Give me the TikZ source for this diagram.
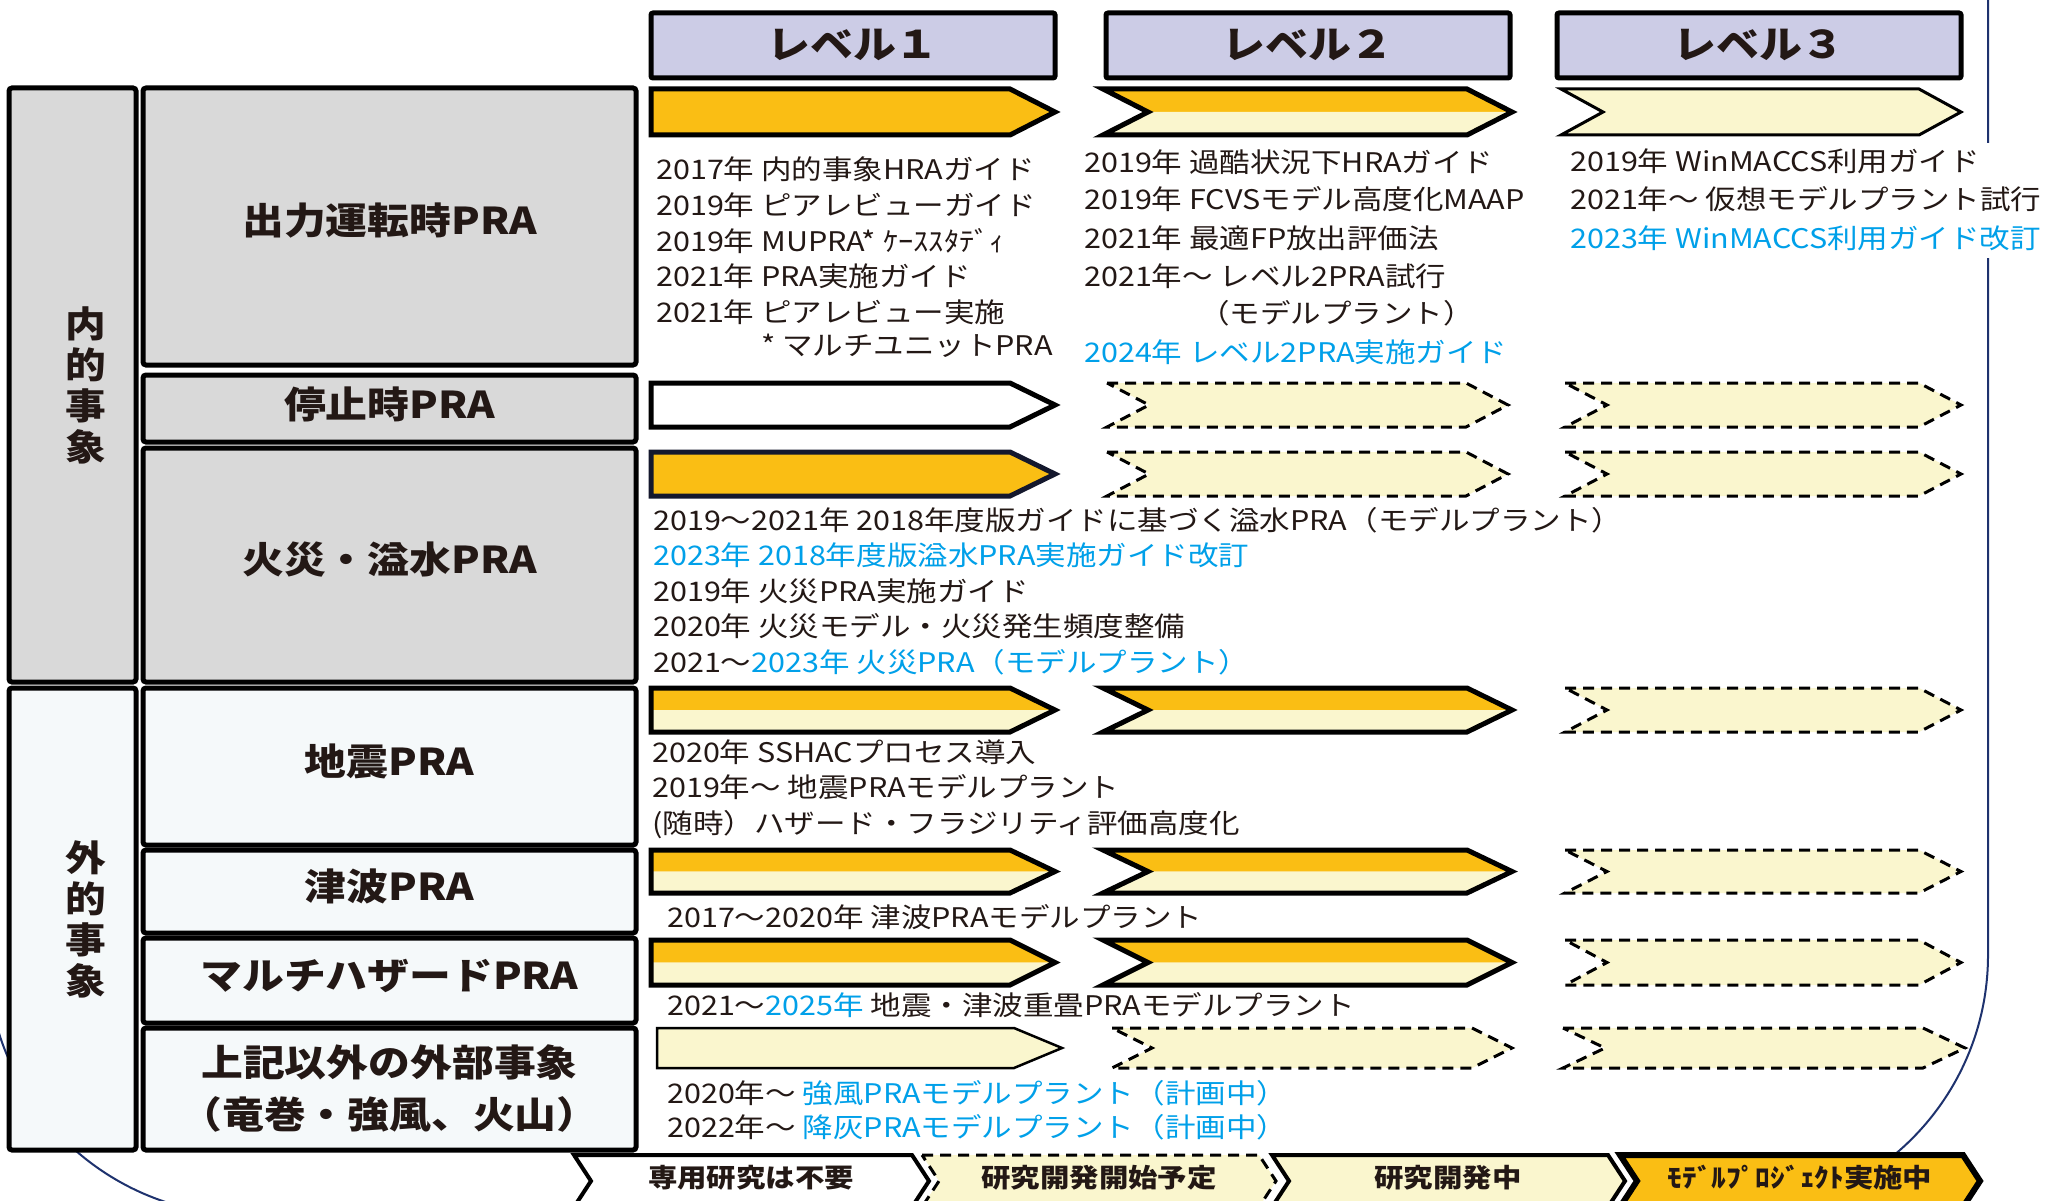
\documentclass[tikz,border=0pt]{standalone}
\usepackage{fontspec}
\newfontfamily\jp[FakeStretch=1.13]{Noto Sans CJK JP}
\definecolor{ink}{RGB}{35,24,21}
\definecolor{cy}{RGB}{0,160,233}
\definecolor{orng}{RGB}{250,190,20}
\definecolor{cream}{RGB}{250,246,206}
\definecolor{lav}{RGB}{204,204,230}
\definecolor{grayfill}{RGB}{217,217,217}
\definecolor{lightfill}{RGB}{245,249,250}
\definecolor{navyl}{RGB}{30,50,110}
\definecolor{darkrim}{RGB}{20,24,45}
% pentagon: x1 x2 ytop ybot depth style
\newcommand{\Pent}[6]{\path[#6] (#1,#3) -- ({#2-#5},#3) -- (#2,{(#3+#4)/2}) -- ({#2-#5},#4) -- (#1,#4) -- cycle;}
% chevron with notch
\newcommand{\Chev}[6]{\path[#6] (#1,#3) -- ({#2-#5},#3) -- (#2,{(#3+#4)/2}) -- ({#2-#5},#4) -- (#1,#4) -- ({#1+#5},{(#3+#4)/2}) -- cycle;}
% half orange / half cream pentagon
\newcommand{\PentHalf}[4]{%
  \fill[orng] (#1,#3) -- ({#2-45},#3) -- (#2,{(#3+#4)/2}) -- (#1,{(#3+#4)/2}) -- cycle;
  \fill[cream] (#1,{(#3+#4)/2}) -- (#2,{(#3+#4)/2}) -- ({#2-45},#4) -- (#1,#4) -- cycle;
  \Pent{#1}{#2}{#3}{#4}{45}{solidarrow}}
\newcommand{\ChevHalf}[4]{%
  \fill[orng] (#1,#3) -- ({#2-45},#3) -- (#2,{(#3+#4)/2}) -- ({#1+45},{(#3+#4)/2}) -- cycle;
  \fill[cream] ({#1+45},{(#3+#4)/2}) -- (#2,{(#3+#4)/2}) -- ({#2-45},#4) -- (#1,#4) -- cycle;
  \Chev{#1}{#2}{#3}{#4}{45}{solidarrow}}
\tikzset{
  solidarrow/.style={draw=black, line width=5pt, line join=miter},
  thinarrow/.style={draw=black, line width=3pt, line join=miter},
  dasharrow/.style={fill=cream, draw=black, line width=3pt, dash pattern=on 11pt off 7pt},
  catbox/.style={draw=black, line width=5pt, rounded corners=3pt},
  hdrbox/.style={draw=black, line width=5pt, fill=lav, rounded corners=2pt},
  bodytxt/.style={anchor=base west, inner sep=0pt, text=ink, font=\jp\fontsize{27}{30}\selectfont},
  rowlbl/.style={inner sep=0pt, text=ink, align=center, font=\jp\bfseries\fontsize{37}{52}\selectfont},
  hdrtxt/.style={inner sep=0pt, text=ink, font=\jp\bfseries\fontsize{38}{40}\selectfont},
  verttxt/.style={inner sep=0pt, text=ink, align=center, font=\jp\bfseries\fontsize{36}{41}\selectfont},
  legtxt/.style={inner sep=0pt, text=ink, font=\jp\bfseries\fontsize{26}{30}\selectfont},
}
\begin{document}
\begin{tikzpicture}[x=1pt,y=-1pt]
\useasboundingbox (0,0) rectangle (2047,1201);
\fill[white] (0,0) rectangle (2047,1201);
% background frame
\draw[navyl, line width=2pt, rounded corners=260pt] (-13,-300) rectangle (1988,1215);
\fill[white] (1565,143) rectangle (2047,258);

% category columns
\draw[catbox, fill=grayfill] (9,88) rectangle (136,682);
\draw[catbox, fill=lightfill] (9,688) rectangle (136,1150);
\draw[catbox, fill=grayfill] (143,88) rectangle (636,365);
\draw[catbox, fill=grayfill] (143,375) rectangle (636,442);
\draw[catbox, fill=grayfill] (143,448) rectangle (636,682);
\draw[catbox, fill=lightfill] (143,688) rectangle (636,845);
\draw[catbox, fill=lightfill] (143,850) rectangle (636,933);
\draw[catbox, fill=lightfill] (143,938) rectangle (636,1023);
\draw[catbox, fill=lightfill] (143,1028) rectangle (636,1150);

\node[verttxt] (naibu) at (86,385) {内\\的\\事\\象};
\node[verttxt] (gaibu) at (86,919) {外\\的\\事\\象};
\node[rowlbl] (r1) at (389.5,221) {出力運転時PRA};
\node[rowlbl] (r2) at (389.5,404) {停止時PRA};
\node[rowlbl] (r3) at (389.5,560) {火災・溢水PRA};
\node[rowlbl] (r4) at (389.5,761) {地震PRA};
\node[rowlbl] (r5) at (389.5,886) {津波PRA};
\node[rowlbl] (r6) at (389.5,976) {マルチハザードPRA};
\node[rowlbl] (r7) at (389.5,1088) {上記以外の外部事象\\（竜巻・強風、火山）};

% level headers
\draw[hdrbox] (651,13) rectangle (1055,78);
\draw[hdrbox] (1106,13) rectangle (1510,78);
\draw[hdrbox] (1557,13) rectangle (1961,78);
\node[hdrtxt] (lv1) at (853,45) {レベル１};
\node[hdrtxt] (lv2) at (1308,45) {レベル２};
\node[hdrtxt] (lv3) at (1759,45) {レベル３};

% row 1
\Pent{651}{1055}{89}{135}{45}{solidarrow, fill=orng}
\ChevHalf{1103}{1512}{89}{135}
\Chev{1561}{1961}{89}{135}{42}{thinarrow, fill=cream}
% row 2
\Pent{651}{1055}{383}{427}{45}{solidarrow, fill=white}
\Chev{1107}{1508}{383}{427}{42}{dasharrow}
\Chev{1565}{1961}{383}{427}{42}{dasharrow}
% row 3
\Pent{651}{1055}{452}{496}{45}{solidarrow, draw=darkrim, fill=orng}
\Chev{1107}{1508}{452}{496}{42}{dasharrow}
\Chev{1565}{1961}{452}{496}{42}{dasharrow}
% row 4
\PentHalf{651}{1055}{688}{732}
\ChevHalf{1103}{1512}{688}{732}
\Chev{1565}{1961}{688}{732}{42}{dasharrow}
% row 5
\PentHalf{651}{1055}{850}{893}
\ChevHalf{1103}{1512}{850}{893}
\Chev{1565}{1961}{850}{893}{42}{dasharrow}
% row 6
\PentHalf{651}{1055}{940}{985}
\ChevHalf{1103}{1512}{940}{985}
\Chev{1565}{1961}{940}{985}{42}{dasharrow}
% row 7
\Pent{657}{1062}{1028}{1068}{48}{draw=black, line width=2.5pt, fill=cream}
\Chev{1112}{1512}{1028}{1068}{40}{dasharrow}
\Chev{1563}{1965}{1028}{1068}{42}{dasharrow}

% level 1 text
\node[bodytxt] (a1) at (656,180) {2017年 内的事象HRAガイド};
\node[bodytxt] (a2) at (656,215.5) {2019年 ピアレビューガイド};
\node[bodytxt] (a3) at (656,251) {2019年 MUPRA* ｹｰｽｽﾀﾃﾞｨ};
\node[bodytxt] (a4) at (656,286.5) {2021年 PRA実施ガイド};
\node[bodytxt] (a5) at (656,322) {2021年 ピアレビュー実施};
\node[bodytxt, anchor=base east] (a6) at (1053,355) {* マルチユニットPRA};
% level 2 text
\node[bodytxt] (b1) at (1084,173) {2019年 過酷状況下HRAガイド};
\node[bodytxt] (b2) at (1084,210) {2019年 FCVSモデル高度化MAAP};
\node[bodytxt] (b3) at (1084,248) {2021年 最適FP放出評価法};
\node[bodytxt] (b4) at (1084,286) {2021年～ レベル2PRA試行};
\node[bodytxt] (b5) at (1199,323) {（モデルプラント）};
\node[bodytxt, text=cy] (b6) at (1084,362) {2024年 レベル2PRA実施ガイド};
% level 3 text
\node[bodytxt] (c1) at (1570,172) {2019年 WinMACCS利用ガイド};
\node[bodytxt] (c2) at (1570,210) {2021年～ 仮想モデルプラント試行};
\node[bodytxt, text=cy] (c3) at (1570,248) {2023年 WinMACCS利用ガイド改訂};
% fire / flooding
\node[bodytxt] (f1) at (653,530) {2019～2021年 2018年度版ガイドに基づく溢水PRA（モデルプラント）};
\node[bodytxt, text=cy] (f2) at (653,565.5) {2023年 2018年度版溢水PRA実施ガイド改訂};
\node[bodytxt] (f3) at (653,601) {2019年 火災PRA実施ガイド};
\node[bodytxt] (f4) at (653,636.5) {2020年 火災モデル・火災発生頻度整備};
\node[bodytxt] (f5) at (653,672) {2021～\textcolor{cy}{2023年 火災PRA（モデルプラント）}};
% seismic
\node[bodytxt] (s1) at (652,762) {2020年 SSHACプロセス導入};
\node[bodytxt] (s2) at (652,797) {2019年～ 地震PRAモデルプラント};
\node[bodytxt] (s3) at (652,833) {(随時）ハザード・フラジリティ評価高度化};
% tsunami
\node[bodytxt] (t1) at (667,927) {2017～2020年 津波PRAモデルプラント};
% multi hazard
\node[bodytxt] (m1) at (667,1015) {2021～\textcolor{cy}{2025年} 地震・津波重畳PRAモデルプラント};
% other external
\node[bodytxt] (o1) at (667,1103) {2020年～ \textcolor{cy}{強風PRAモデルプラント（計画中）}};
\node[bodytxt] (o2) at (667,1137) {2022年～ \textcolor{cy}{降灰PRAモデルプラント（計画中）}};

% legend
\Chev{574}{929}{1155}{1207}{17}{solidarrow, line width=4pt, fill=white}
\Chev{922}{1276}{1155}{1207}{17}{dasharrow}
\Chev{1272}{1625}{1155}{1207}{17}{solidarrow, line width=4pt, fill=cream}
\Chev{1620}{1980}{1155}{1207}{17}{solidarrow, line width=6pt, fill=orng}
\node[legtxt] (g1) at (751,1178) {専用研究は不要};
\node[legtxt] (g2) at (1099,1178) {研究開発開始予定};
\node[legtxt] (g3) at (1448,1178) {研究開発中};
\node[legtxt] (g4) at (1800,1178) {ﾓﾃﾞﾙﾌﾟﾛｼﾞｪｸﾄ実施中};
\end{tikzpicture}
\end{document}
